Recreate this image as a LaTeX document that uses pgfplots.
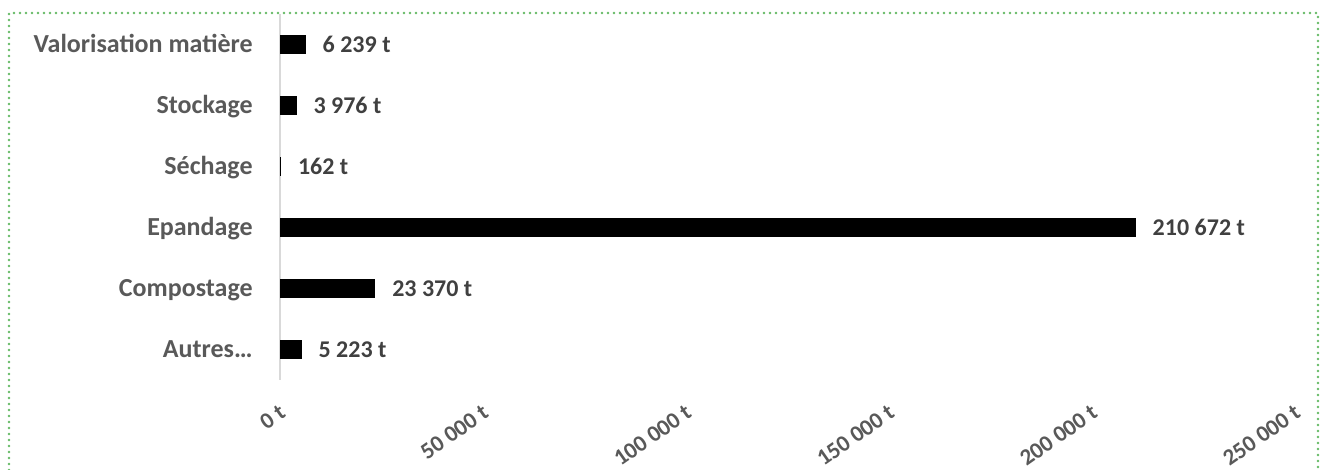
\documentclass[border=0pt]{standalone}
\usepackage{pgfplots}
\pgfplotsset{compat=1.18}
\usepackage{fontspec}
\setmainfont{Carlito}
\definecolor{txt}{HTML}{595959}
\definecolor{lbl}{HTML}{404040}
\definecolor{axl}{HTML}{D9D9D9}
\definecolor{brd}{RGB}{100,185,100}
\pgfplotstableread{
x y
5223 0
23370 1
210672 2
162 3
3976 4
6239 5
}\datatab
\begin{document}
\begin{tikzpicture}
\path[use as bounding box] (0,0) rectangle (660.5pt,235pt);
\draw[brd, line width=1.3pt, line cap=round, dash pattern=on 0pt off 3pt] (4.5pt,0) -- (4.5pt,228.5pt) -- (659pt,228.5pt) -- (659pt,0);
\begin{axis}[
  at={(140pt,45pt)}, anchor=south west,
  scale only axis, width=507.5pt, height=183pt,
  xmin=0, xmax=250000, ymin=-0.5, ymax=5.5,
  xbar, bar width=0.3,
  axis x line*=bottom, axis y line*=left,
  x axis line style={draw=none},
  y axis line style={axl, line width=0.75pt},
  major tick length=0pt,
  /pgf/number format/.cd, fixed, precision=0, 1000 sep={\ }, assume math mode=true,
  /pgfplots/.cd,
  xtick={0,50000,100000,150000,200000,250000},
  scaled x ticks=false,
  xticklabel={\pgfmathprintnumber{\tick}~t},
  xticklabel style={font=\bfseries\fontsize{11.5pt}{13pt}\selectfont, text=txt, inner sep=0pt, xshift=1.5pt, yshift=-15pt, anchor=east, rotate=35},
  ytick={0,1,2,3,4,5},
  yticklabels={Autres…, Compostage, Epandage, Séchage, Stockage, Valorisation matière},
  yticklabel style={font=\bfseries\fontsize{13pt}{15pt}\selectfont, text=txt, inner sep=0pt, anchor=base east, xshift=-13.5pt, yshift=-4.2pt},
  point meta=x,
  nodes near coords={\pgfmathprintnumber{\pgfplotspointmeta}~t},
  nodes near coords style={font=\bfseries\fontsize{12pt}{14pt}\selectfont, text=lbl, inner sep=0pt, anchor=base west, xshift=8.5pt, yshift=-3.8pt},
]
\addplot[draw=black, fill=black, line width=0.4pt] table[x=x, y=y] {\datatab};
\end{axis}
\end{tikzpicture}
\end{document}
